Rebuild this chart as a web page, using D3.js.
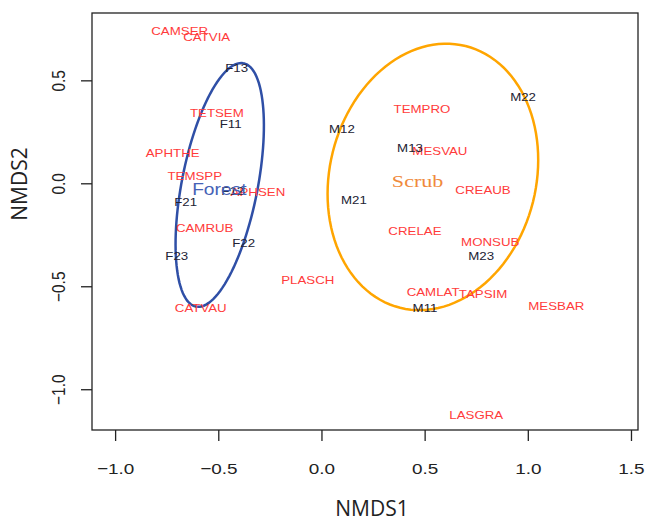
<!DOCTYPE html>
<meta charset="utf-8">
<style>
    body { margin: 0; background: #fff; }
    .species { fill: #ff3b3b; font-family: "Liberation Sans", Arial, sans-serif; font-size: 10px; }
    .sites { fill: #222233; font-family: "Liberation Sans", Arial, sans-serif; font-size: 10px; }
    .tick text { font-family: "Liberation Sans", Arial, sans-serif; font-size: 15.5px; fill: #222; }
    .title { font-family: "Open Sans", sans-serif; font-size: 21px; fill: #222; }
</style>
<svg width="646" height="522"></svg>
<script src="https://d3js.org/d3.v7.min.js"></script>
<script>
    // species scores (red labels)
    const species = ["CAMSER", "CATVIA", "TETSEM", "APHTHE", "TEMSPP", "APHSEN", "CAMRUB", "CATVAU", "PLASCH",
        "TEMPRO", "MESVAU", "CREAUB", "CRELAE", "MONSUB", "CAMLAT", "TAPSIM", "MESBAR", "LASGRA"];
    const speciesX = [-0.687, -0.556, -0.507, -0.721, -0.614, -0.308, -0.566, -0.585, -0.066,
        0.487, 0.574, 0.783, 0.453, 0.818, 0.541, 0.783, 1.138, 0.750];
    const speciesY = [0.739, 0.710, 0.341, 0.147, 0.035, -0.042, -0.217, -0.605, -0.469,
        0.361, 0.157, -0.033, -0.232, -0.285, -0.528, -0.538, -0.596, -1.125];

    // site scores (black labels)
    const sites = ["F13", "F11", "F12", "F21", "F22", "F23", "M12", "M13", "M22", "M21", "M23", "M11"];
    const siteX = [-0.411, -0.440, -0.430, -0.658, -0.377, -0.701, 0.099, 0.429, 0.977, 0.157, 0.774, 0.502];
    const siteY = [0.558, 0.286, -0.038, -0.091, -0.290, -0.353, 0.263, 0.171, 0.419, -0.081, -0.353, -0.605];

    // group ellipses: centre, semi-axes, rotation (degrees from x axis)
    const groups = ["Forest", "Scrub"];
    const groupCx = [-0.493, 0.540];
    const groupCy = [-0.008, 0.031];
    const groupA = [0.602, 0.655];
    const groupB = [0.184, 0.500];
    const groupAngle = [79, 76];
    const groupLabelX = [-0.495, 0.466];
    const groupLabelY = [-0.032, 0.012];
    const groupColor = ["#2f4fa6", "#ffa500"];
    const groupTextColor = ["#4662b6", "#f08a3c"];

    const xTicks = [-1.0, -0.5, 0.0, 0.5, 1.0, 1.5];
    const yTicks = [-1.0, -0.5, 0.0, 0.5];

    // the picture is a little wider than tall, so text is stretched sideways
    const stretch = 1.22;
    const labelStretch = 1.33;

    let svg = d3.select("svg");
    const mLeft = 92, mRight = 638, mTop = 13, mBottom = 430;

    let x = d3.scaleLinear().domain([-1.112, 1.534]).range([mLeft, mRight]);
    let y = d3.scaleLinear().domain([-1.198, 0.827]).range([mBottom, mTop]);

    // box
    svg.append("rect")
        .attr("x", mLeft).attr("y", mTop)
        .attr("width", mRight - mLeft).attr("height", mBottom - mTop)
        .attr("fill", "none").attr("stroke", "#222").attr("stroke-width", 1.3);

    // axes
    let xAxis = svg.append("g")
        .attr("transform", "translate(0," + mBottom + ")")
        .call(d3.axisBottom(x).tickValues(xTicks).tickFormat(d3.format(".1f")).tickSize(11));
    xAxis.select(".domain").remove();
    xAxis.selectAll("line").attr("stroke", "#222").attr("stroke-width", 1.3);
    xAxis.selectAll("text")
        .attr("y", 0).attr("dy", null)
        .attr("transform", "translate(0,44) scale(" + stretch + ",1)");

    let yAxis = svg.append("g")
        .attr("transform", "translate(" + mLeft + ",0)")
        .call(d3.axisLeft(y).tickValues(yTicks).tickFormat(d3.format(".1f")).tickSize(11));
    yAxis.select(".domain").remove();
    yAxis.selectAll("line").attr("stroke", "#222").attr("stroke-width", 1.3);
    yAxis.selectAll("text")
        .attr("x", 0).attr("dy", null)
        .attr("text-anchor", "middle")
        .attr("transform", "translate(-27,0) scale(" + stretch + ",1) rotate(-90)");

    svg.append("text").attr("class", "title")
        .attr("x", 372).attr("y", 516)
        .attr("text-anchor", "middle").text("NMDS1");
    svg.append("text").attr("class", "title")
        .attr("transform", "translate(27,184) rotate(-90)")
        .attr("text-anchor", "middle").text("NMDS2");

    // ellipses
    let line = d3.line().x(function(d) { return x(d[0]); }).y(function(d) { return y(d[1]); });
    groups.forEach(function(g, i) {
        const th = groupAngle[i] * Math.PI / 180;
        const pts = d3.range(0, 361, 3).map(function(t) {
            const r = t * Math.PI / 180;
            const u = groupA[i] * Math.cos(r), v = groupB[i] * Math.sin(r);
            return [groupCx[i] + u * Math.cos(th) - v * Math.sin(th),
                    groupCy[i] + u * Math.sin(th) + v * Math.cos(th)];
        });
        svg.append("path")
            .attr("d", line(pts))
            .attr("fill", "none")
            .attr("stroke", groupColor[i])
            .attr("stroke-width", 2.5);
    });

    // species labels
    svg.append("g").selectAll("text")
        .data(species).enter().append("text")
        .attr("class", "species")
        .attr("transform", function(d, i) {
            return "translate(" + x(speciesX[i]) + "," + y(speciesY[i]) + ") scale(" + labelStretch + ",1)";
        })
        .attr("text-anchor", "middle").attr("dominant-baseline", "central")
        .text(function(d) { return d; });

    // site labels
    svg.append("g").selectAll("text")
        .data(sites).enter().append("text")
        .attr("class", "sites")
        .attr("transform", function(d, i) {
            return "translate(" + x(siteX[i]) + "," + y(siteY[i]) + ") scale(" + labelStretch + ",1)";
        })
        .attr("text-anchor", "middle").attr("dominant-baseline", "central")
        .text(function(d) { return d; });

    // group labels
    svg.append("text")
        .attr("transform", "translate(" + x(groupLabelX[0]) + "," + y(groupLabelY[0]) + ") scale(1.2,1)")
        .attr("text-anchor", "middle").attr("dominant-baseline", "central")
        .attr("fill", groupTextColor[0])
        .style("font-family", "'Liberation Sans', Arial, sans-serif").style("font-size", "16px")
        .text(groups[0]);
    svg.append("text")
        .attr("transform", "translate(" + x(groupLabelX[1]) + "," + y(groupLabelY[1]) + ") scale(1.3,1)")
        .attr("text-anchor", "middle").attr("dominant-baseline", "central")
        .attr("fill", groupTextColor[1])
        .style("font-family", "'Liberation Serif', 'DejaVu Serif', serif").style("font-size", "17px")
        .text(groups[1]);
</script>
<body>
</body>
